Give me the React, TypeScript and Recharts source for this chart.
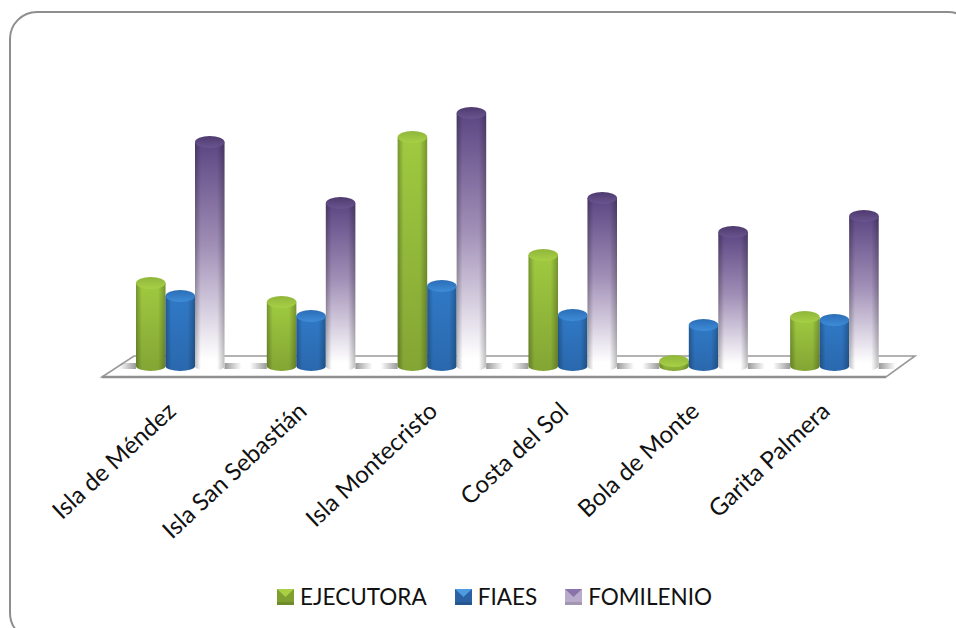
import React from "react"
import { BarChart, Bar, XAxis, YAxis, Legend, usePlotArea } from "recharts"

const places = ["Isla de Méndez", "Isla San Sebastián", "Isla Montecristo", "Costa del Sol", "Bola de Monte", "Garita Palmera"]
const ejecutora = [83, 64, 229, 111, 5, 49]
const fiaes = [70, 50, 80, 51, 41, 46]
const fomilenio = [224, 163, 253, 168, 134, 150]

const data = places.map((name, i) => ({
  name,
  EJECUTORA: ejecutora[i],
  FIAES: fiaes[i],
  FOMILENIO: fomilenio[i],
}))

const FONT = "Lato, Carlito, sans-serif"

const swatches = [
  { name: "EJECUTORA", base: "#7f9f30", light: "#a9d044" },
  { name: "FIAES", base: "#2a62a4", light: "#4f9be0" },
  { name: "FOMILENIO", base: "#b9abcb", light: "#8a73ab" },
]

// floor slab under the bars, placed relative to the plot area
function Floor() {
  const plot = usePlotArea()
  if (!plot) return null
  const left = plot.x
  const right = plot.x + plot.width
  const base = plot.y + plot.height
  const points = [
    [left - 13, base + 11],
    [left + 19, base - 10],
    [right + 15, base - 10],
    [right - 14, base + 11],
  ]
  return (
    <g>
      <polygon points={points.map((p) => p.join(",")).join(" ")} fill="#fff" stroke="#9a9a9a" strokeWidth={1.6} />
      <line x1={left - 13} x2={right - 14} y1={base + 11} y2={base + 11} stroke="#8f8f8f" strokeWidth={2.4} />
    </g>
  )
}

function Cylinder({ x, y, width, height, kind, side }: any) {
  const rx = width / 2
  const ry = Math.min(6, 3.5 + height)
  const base = y + height
  const body = `M${x},${y} L${x},${base} A${rx},5 0 0 0 ${x + width},${base} L${x + width},${y} Z`
  const ellipseFill = kind === "green" ? "url(#topGreen)" : kind === "blue" ? "url(#topBlue)" : "url(#topPurple)"
  const bodyFill = kind === "green" ? "url(#bodyGreen)" : kind === "blue" ? "url(#bodyBlue)" : "url(#bodyPurple)"
  return (
    <g>
      {side === "left" && <rect x={x - 17} y={base - 3} width={17} height={6} fill="url(#shadowLeft)" />}
      {side === "right" && <rect x={x + width} y={base - 3} width={17} height={6} fill="url(#shadowRight)" />}
      <path d={body} fill={bodyFill} />
      <path d={body} fill="url(#edges)" />
      <ellipse cx={x + rx} cy={y} rx={rx} ry={ry} fill={ellipseFill} />
    </g>
  )
}

function AngledTick({ x, y, payload }: any) {
  return (
    <text
      x={x - 3}
      y={y + 39}
      transform={`rotate(-43 ${x - 3} ${y + 39})`}
      textAnchor="end"
      fontFamily={FONT}
      fontSize={24}
      fill="#111"
    >
      {payload.value}
    </text>
  )
}

function LegendBox() {
  return (
    <div style={{ display: "flex", justifyContent: "center", alignItems: "center", paddingLeft: 33, fontFamily: FONT, fontSize: 22.5, color: "#111" }}>
      {swatches.map((s) => (
        <div key={s.name} style={{ display: "flex", alignItems: "center", margin: "0 14px" }}>
          <svg width={17} height={16} style={{ marginRight: 6 }}>
            <rect width={17} height={16} fill={s.base} />
            <polygon points="0,0 17,0 8.5,8" fill={s.light} />
            <rect y={13} width={17} height={3} fill="#000" opacity={0.12} />
          </svg>
          {s.name}
        </div>
      ))}
    </div>
  )
}

export default function App() {
  return (
    <div style={{ position: "absolute", left: 0, top: 0, width: 956, height: 628, overflow: "hidden", background: "#fff" }}>
      <div
        style={{
          position: "absolute",
          left: 9,
          top: 11,
          width: 967,
          height: 630,
          border: "2px solid #8e8e8e",
          borderRadius: 28,
          boxSizing: "border-box",
        }}
      />
      <div style={{ position: "absolute", left: 0, top: 0 }}>
        <BarChart
          width={956}
          height={628}
          data={data}
          margin={{ top: 112, right: 56, bottom: 0, left: 115 }}
          barGap={0}
          barSize={29.5}
        >
          <defs>
            <linearGradient id="bodyGreen" x1="0" y1="0" x2="0" y2="1">
              <stop offset="0" stopColor="#a0ca40" />
              <stop offset="1" stopColor="#83a534" />
            </linearGradient>
            <linearGradient id="bodyBlue" x1="0" y1="0" x2="0" y2="1">
              <stop offset="0" stopColor="#3079c6" />
              <stop offset="1" stopColor="#2a68ad" />
            </linearGradient>
            <linearGradient id="bodyPurple" x1="0" y1="0" x2="0" y2="1">
              <stop offset="0" stopColor="#5c4683" />
              <stop offset="0.45" stopColor="#a08eb6" />
              <stop offset="0.95" stopColor="#ffffff" />
              <stop offset="1" stopColor="#ffffff" />
            </linearGradient>
            <linearGradient id="edges" x1="0" y1="0" x2="1" y2="0">
              <stop offset="0" stopColor="#000" stopOpacity={0.26} />
              <stop offset="0.2" stopColor="#000" stopOpacity={0} />
              <stop offset="0.75" stopColor="#000" stopOpacity={0} />
              <stop offset="1" stopColor="#000" stopOpacity={0.26} />
            </linearGradient>
            <linearGradient id="topGreen" x1="0" y1="0" x2="0" y2="1">
              <stop offset="0" stopColor="#8fb63a" />
              <stop offset="1" stopColor="#a8d046" />
            </linearGradient>
            <linearGradient id="topBlue" x1="0" y1="0" x2="0" y2="1">
              <stop offset="0" stopColor="#2a6db6" />
              <stop offset="1" stopColor="#3f8cd8" />
            </linearGradient>
            <linearGradient id="topPurple" x1="0" y1="0" x2="0" y2="1">
              <stop offset="0" stopColor="#4e3a6e" />
              <stop offset="1" stopColor="#6b5590" />
            </linearGradient>
            <linearGradient id="shadowLeft" x1="0" y1="0" x2="1" y2="0">
              <stop offset="0" stopColor="#555" stopOpacity={0} />
              <stop offset="1" stopColor="#555" stopOpacity={0.6} />
            </linearGradient>
            <linearGradient id="shadowRight" x1="0" y1="0" x2="1" y2="0">
              <stop offset="0" stopColor="#555" stopOpacity={0.6} />
              <stop offset="1" stopColor="#555" stopOpacity={0} />
            </linearGradient>
          </defs>
          <Floor />
          <XAxis dataKey="name" axisLine={false} tickLine={false} interval={0} height={262} tick={<AngledTick />} />
          <YAxis hide domain={[0, 254]} />
          <Bar dataKey="EJECUTORA" isAnimationActive={false} shape={(p: any) => <Cylinder {...p} kind="green" side="left" />} />
          <Bar dataKey="FIAES" isAnimationActive={false} shape={(p: any) => <Cylinder {...p} kind="blue" />} />
          <Bar dataKey="FOMILENIO" isAnimationActive={false} shape={(p: any) => <Cylinder {...p} kind="purple" side="right" />} />
          <Legend content={() => <LegendBox />} wrapperStyle={{ position: "absolute", top: 583, left: 0, width: 956, height: 0 }} height={0} />
        </BarChart>
      </div>
    </div>
  )
}
